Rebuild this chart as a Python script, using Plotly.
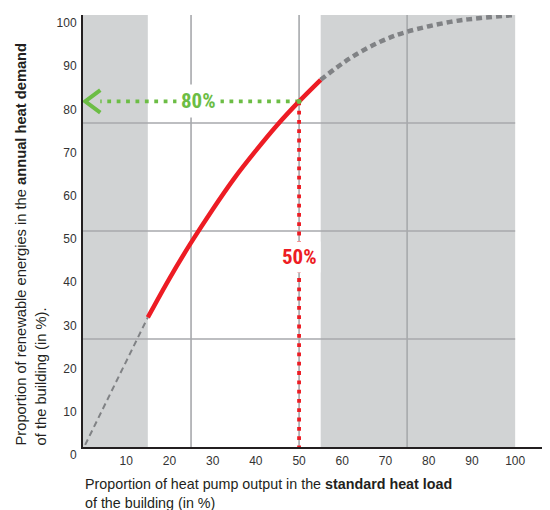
import plotly.graph_objects as go

# ---- data ----
low_x = [0.5, 15]
low_y = [0.5, 30]

red_x = [15, 20, 25, 30, 35, 40, 45, 50, 55]
red_y = [30, 39, 47.3, 55, 62.2, 68.6, 74.6, 80, 85]

high_x = [55, 61.8, 68.75, 74.9, 85, 92, 100]
high_y = [85, 90, 93.8, 96.1, 98.4, 99.3, 100]

sel_x = 50      # selected heat-pump share (%)
sel_y = 80      # resulting renewable share (%)
arrow_x = 0.5   # arrow tip on the y axis
arrow_dx = 3.5
arrow_dy = 2.6

bands = [(0, 15), (55, 100)]
grid_vals = [25, 50, 75]

x_ticks = [10, 20, 30, 40, 50, 60, 70, 80, 90, 100]
y_ticks = [0, 10, 20, 30, 40, 50, 60, 70, 80, 90, 100]

GREEN = "#6cbd45"
RED = "#ed1c24"
GREY = "#808285"
COND = "Liberation Sans Narrow, Roboto Condensed, DejaVu Sans Condensed, Arial Narrow, sans-serif"
SANS = "Liberation Sans, Arial, sans-serif"

fig = go.Figure()

# dotted guide lines
fig.add_trace(go.Scatter(x=[sel_x, sel_x], y=[sel_y, 0], mode="lines",
                         line=dict(color=RED, width=3.8, dash="3.8px,5.5px"),
                         hoverinfo="skip", showlegend=False))
fig.add_trace(go.Scatter(x=[sel_x, arrow_x + arrow_dx], y=[sel_y, sel_y], mode="lines",
                         line=dict(color=GREEN, width=3.8, dash="3.8px,5.6px"),
                         hoverinfo="skip", showlegend=False))
# arrow head
fig.add_trace(go.Scatter(x=[arrow_x + arrow_dx, arrow_x, arrow_x + arrow_dx],
                         y=[sel_y + arrow_dy, sel_y, sel_y - arrow_dy], mode="lines",
                         line=dict(color=GREEN, width=4),
                         hoverinfo="skip", showlegend=False))

# curve pieces
fig.add_trace(go.Scatter(x=low_x, y=low_y, mode="lines",
                         line=dict(color=GREY, width=2, dash="6px,4px"),
                         showlegend=False))
fig.add_trace(go.Scatter(x=high_x, y=high_y, mode="lines", line_shape="spline",
                         line=dict(color=GREY, width=4.5, dash="6px,4px"),
                         showlegend=False))
fig.add_trace(go.Scatter(x=red_x, y=red_y, mode="lines", line_shape="spline",
                         line=dict(color=RED, width=4.5), showlegend=False))
fig.add_trace(go.Scatter(x=[sel_x], y=[sel_y], mode="markers",
                         marker=dict(color=GREEN, size=5), showlegend=False))

shapes = []
for a, b in bands:
    shapes.append(dict(type="rect", xref="x", yref="y", x0=a, x1=b, y0=0, y1=100,
                       fillcolor="#d1d3d4", line=dict(width=0), layer="below"))
for v in grid_vals:
    shapes.append(dict(type="line", xref="x", yref="y", x0=v, x1=v, y0=0, y1=100,
                       line=dict(color="#a7a9ac", width=1.6), layer="below"))
    shapes.append(dict(type="line", xref="x", yref="y", x0=0, x1=100, y0=v, y1=v,
                       line=dict(color="#a7a9ac", width=1.6), layer="below"))

annotations = [
    dict(x=26.7, y=sel_y, xref="x", yref="y", text="<b>%d%%</b>" % sel_y, showarrow=False,
         font=dict(family=COND, size=21, color=GREEN), bgcolor="white", borderpad=4),
    dict(x=sel_x, y=44, xref="x", yref="y", text="<b>%d%%</b>" % sel_x, showarrow=False,
         font=dict(family=COND, size=21, color=RED), bgcolor="white", borderpad=3),
    dict(x=-0.155, y=0, xref="paper", yref="paper", xanchor="left", yanchor="bottom",
         textangle=-90, align="left", showarrow=False,
         text="Proportion of renewable energies in the <b>annual heat demand</b><br>of the building (in %).",
         font=dict(family=SANS, size=14.7, color="#231f20")),
    dict(x=0.0, y=-0.062, xref="paper", yref="paper", xanchor="left", yanchor="top",
         align="left", showarrow=False,
         text="Proportion of heat pump output in the <b>standard heat load</b><br>of the building (in %)",
         font=dict(family=SANS, size=14.3, color="#231f20")),
]

# the page body adds an 8px offset, so the figure is drawn 8px smaller
fig.update_layout(
    template="none",
    width=542, height=502,
    margin=dict(l=75, r=2, t=7, b=63, autoexpand=False),
    paper_bgcolor="white", plot_bgcolor="white",
    shapes=shapes, annotations=annotations,
    font=dict(family=SANS, size=12, color="#333333"),
    xaxis=dict(range=[0, 107.6], showgrid=False, zeroline=False, showline=True,
               linecolor="#231f20", linewidth=2, tickmode="array", tickvals=x_ticks,
               ticks="", ticklabelstandoff=2, automargin=False, fixedrange=True),
    yaxis=dict(range=[0, 100], showgrid=False, zeroline=False, showline=True,
               linecolor="#231f20", linewidth=2, tickmode="array", tickvals=y_ticks,
               ticks="", ticklabelstandoff=2, ticklabelshift=8, automargin=False,
               fixedrange=True),
)

fig.write_html("out.html")
